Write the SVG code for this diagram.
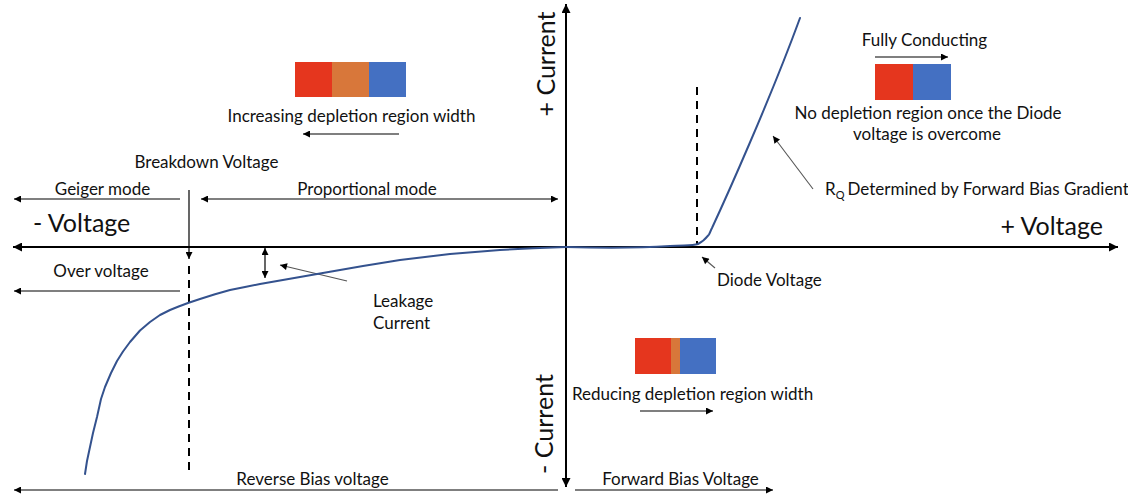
<svg xmlns="http://www.w3.org/2000/svg" width="1128" height="498" viewBox="0 0 1128 498">
  <style>
    text { font-family: Lato, "Liberation Sans", sans-serif; fill: #111; }
    .lbl { font-size: 17px; }
    .big { font-size: 25px; }
    .mid { text-anchor: middle; }
    .arr { stroke: #000; stroke-width: 1.2; fill: none; }
    .axis { stroke: #000; stroke-width: 2; fill: none; }
    .dash { stroke: #000; stroke-width: 2; stroke-dasharray: 8 6; fill: none; }
    .ptr { stroke: #555; stroke-width: 1.1; fill: none; }
    .curve { stroke: #34528E; stroke-width: 2; fill: none; stroke-linejoin: round; stroke-linecap: round; }
    .red { fill: #E5361E; }
    .orange { fill: #D8773A; }
    .blue { fill: #4470C2; }
  </style>
  <defs>
    <marker id="ah" viewBox="0 0 10 10" refX="10" refY="5" markerUnits="userSpaceOnUse" markerWidth="9" markerHeight="7" orient="auto-start-reverse">
      <path d="M0,0 L10,5 L0,10 z" fill="#000"/>
    </marker>
    <marker id="ahAxis" viewBox="0 0 10 10" refX="10" refY="5" markerUnits="userSpaceOnUse" markerWidth="11" markerHeight="9" orient="auto-start-reverse">
      <path d="M0,0 L10,5 L0,10 z" fill="#000"/>
    </marker>
    <marker id="ahGray" viewBox="0 0 10 10" refX="10" refY="5" markerUnits="userSpaceOnUse" markerWidth="9" markerHeight="7" orient="auto">
      <path d="M0,0 L10,5 L0,10 z" fill="#000"/>
    </marker>
  </defs>

  <rect width="1128" height="498" fill="#fff"/>

  <!-- axes, guide lines and arrows -->
  <g id="connectors">
    <line class="axis" x1="1118" y1="247" x2="13" y2="247" marker-start="url(#ahAxis)" marker-end="url(#ahAxis)"/>
    <line class="axis" x1="566" y1="487" x2="566" y2="4" marker-start="url(#ahAxis)" marker-end="url(#ahAxis)"/>

    <!-- breakdown voltage marker -->
    <line class="arr" x1="189" y1="190" x2="189" y2="259" marker-end="url(#ah)"/>
    <line class="dash" x1="189" y1="266" x2="189" y2="476"/>
    <!-- diode voltage marker -->
    <line class="dash" x1="697" y1="87" x2="697" y2="245"/>

    <!-- operating regions -->
    <line class="arr" x1="180" y1="199" x2="14" y2="199" marker-end="url(#ah)"/>
    <line class="arr" x1="201" y1="199" x2="558" y2="199" marker-start="url(#ah)" marker-end="url(#ah)"/>
    <line class="arr" x1="180" y1="291" x2="14" y2="291" marker-end="url(#ah)"/>
    <line class="arr" x1="558" y1="490" x2="14" y2="490" marker-end="url(#ah)"/>
    <line class="arr" x1="575" y1="490" x2="773" y2="490" marker-end="url(#ah)"/>

    <!-- leakage current gap -->
    <line class="arr" x1="265" y1="248" x2="265" y2="278" marker-start="url(#ah)" marker-end="url(#ah)"/>
    <line class="ptr" x1="347" y1="281" x2="280" y2="265" marker-end="url(#ahGray)"/>

    <!-- depletion direction arrows -->
    <line class="arr" x1="399" y1="134" x2="303" y2="134" marker-end="url(#ah)"/>
    <line class="arr" x1="875" y1="57" x2="948" y2="57" marker-end="url(#ah)"/>
    <line class="arr" x1="640" y1="411" x2="713" y2="411" marker-end="url(#ah)"/>

    <!-- pointers -->
    <line class="ptr" x1="813" y1="189" x2="773" y2="136" marker-end="url(#ahGray)"/>
    <line class="ptr" x1="715" y1="268" x2="702" y2="257" marker-end="url(#ahGray)"/>
  </g>

  <!-- I-V characteristic -->
  <g id="iv-curve">
    <path class="curve" d="M566,247 L533,248.2 L500,250 L475,252 L450,254 L425,257 L400,260 L380,263.3 L363,266 L330,271.8 L300,277 L280,280.5 L260,284 L245,287 L230,290 L215,294.2 L200,299 L188,303 L178,306.8 L170,310 L160,315 L150,322 L140,330.5 L130,342 L123,351.5 L117,361 L111,373 L105,387 L101,399 L97,417 L93,433 L90,447 L87,461 L85,474"/>
    <path class="curve" d="M566,247 C600,248 640,248 670,246 C685,245 692,246 698,244 C704,241 707,237 709,234.5 C710,232.5 711,230 712,228 C725,200 770,100 800,18"/>
  </g>

  <g id="axis-labels">
    <text class="big" x="33" y="232">- Voltage</text>
    <text class="big" x="1103" y="235" text-anchor="end">+ Voltage</text>
    <text class="big mid" transform="translate(555,64) rotate(-90)">+ Current</text>
    <text class="big mid" transform="translate(553,424) rotate(-90)">- Current</text>
  </g>

  <g id="breakdown-voltage">
    <text class="lbl mid" x="206.5" y="168">Breakdown Voltage</text>
  </g>
  <g id="geiger-mode">
    <text class="lbl mid" x="102.5" y="195">Geiger mode</text>
  </g>
  <g id="proportional-mode">
    <text class="lbl mid" x="367" y="195">Proportional mode</text>
  </g>
  <g id="over-voltage">
    <text class="lbl mid" x="101" y="277">Over voltage</text>
  </g>
  <g id="leakage-current">
    <text class="lbl" x="373" y="307">Leakage</text>
    <text class="lbl" x="373" y="329">Current</text>
  </g>
  <g id="reverse-bias">
    <text class="lbl mid" x="312.5" y="485">Reverse Bias voltage</text>
  </g>
  <g id="forward-bias">
    <text class="lbl mid" x="680.5" y="485">Forward Bias Voltage</text>
  </g>

  <g id="increasing-depletion">
    <rect class="red" x="295" y="62" width="37" height="35"/>
    <rect class="orange" x="332" y="62" width="37" height="35"/>
    <rect class="blue" x="369" y="62" width="37" height="35"/>
    <text class="lbl mid" x="351.5" y="122">Increasing depletion region width</text>
  </g>

  <g id="reducing-depletion">
    <rect class="red" x="635" y="338" width="36" height="36"/>
    <rect class="orange" x="671" y="338" width="9" height="36"/>
    <rect class="blue" x="680" y="338" width="36" height="36"/>
    <text class="lbl mid" x="692.5" y="400">Reducing depletion region width</text>
  </g>

  <g id="fully-conducting">
    <text class="lbl mid" x="924.5" y="46">Fully Conducting</text>
    <rect class="red" x="875" y="64" width="38" height="36"/>
    <rect class="blue" x="913" y="64" width="38" height="36"/>
    <text class="lbl mid" x="928" y="119">No depletion region once the Diode</text>
    <text class="lbl mid" x="927" y="140">voltage is overcome</text>
  </g>

  <g id="rq-gradient">
    <text class="lbl" x="825" y="195">R<tspan font-size="11" dy="4">Q</tspan><tspan dy="-4" dx="3">Determined by Forward Bias Gradient</tspan></text>
  </g>

  <g id="diode-voltage">
    <text class="lbl" x="717" y="286">Diode Voltage</text>
  </g>
</svg>
